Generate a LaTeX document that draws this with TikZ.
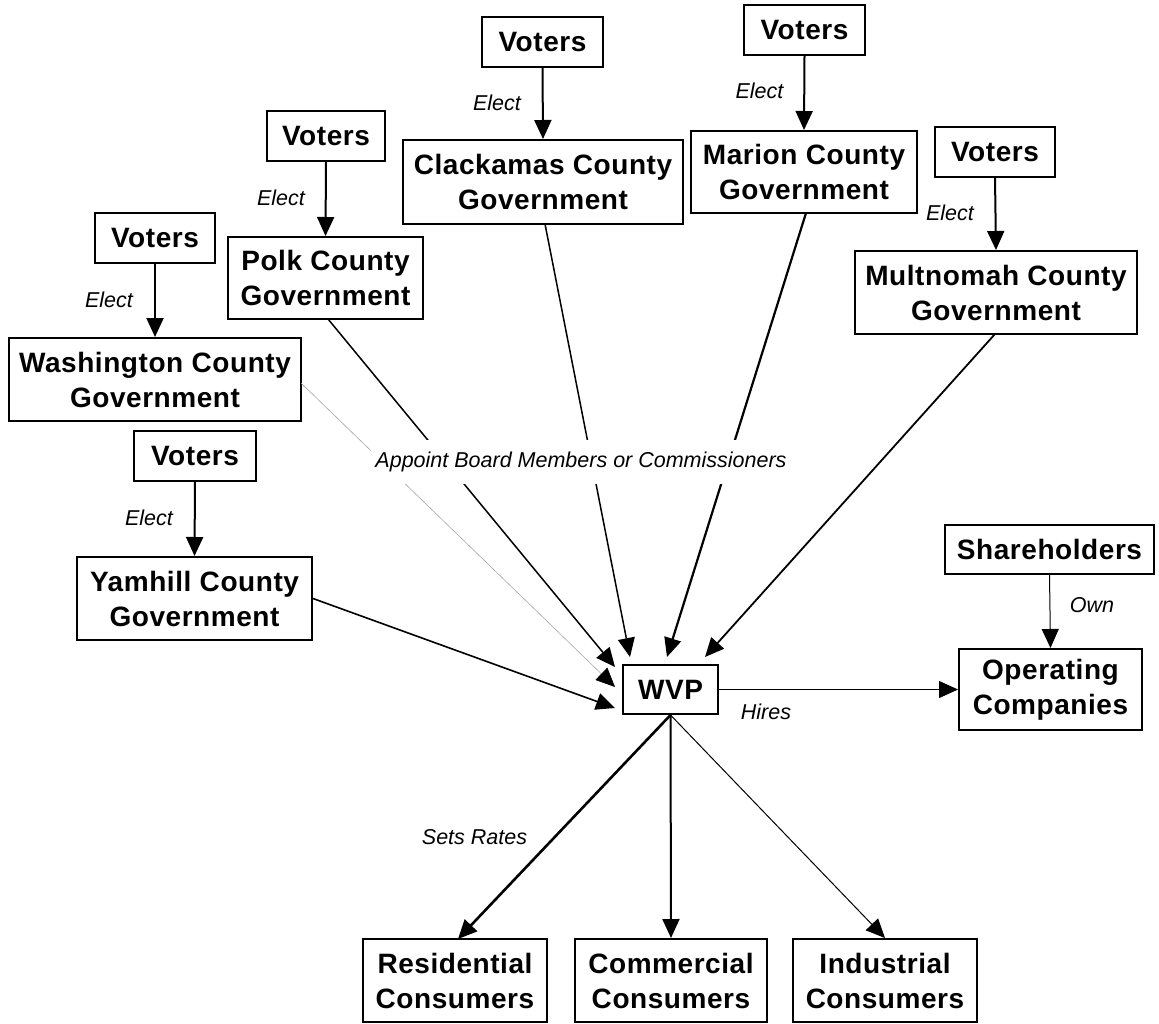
\documentclass[tikz,border=0pt]{standalone}
\usepackage{fontspec}
\setmainfont{Liberation Sans}
\newfontfamily\boxfont[LetterSpace=2]{Liberation Sans}
\usetikzlibrary{arrows.meta}
\tikzset{
  box/.style={draw, line width=2pt, inner sep=0pt, align=center,
    font=\boxfont\fontsize{28}{35}\selectfont\bfseries},
  lbl/.style={inner sep=0pt, font=\fontsize{21.5}{26}\selectfont\itshape},
  arr/.style={-{Triangle[length=19pt,width=17pt]}},
}
\begin{document}
\begin{tikzpicture}[x=1pt,y=-1pt]
\useasboundingbox (0,0) rectangle (1159,1023);
% voters
\node[box, minimum width=120pt, minimum height=50pt] (vw) at (155,238) {Voters};
\node[box, minimum width=122pt, minimum height=50pt] (vy) at (195,456) {Voters};
\node[box, minimum width=118pt, minimum height=50pt] (vp) at (326,136) {Voters};
\node[box, minimum width=121pt, minimum height=50pt] (vc) at (542.5,42) {Voters};
\node[box, minimum width=121pt, minimum height=50pt] (vm) at (804.5,30) {Voters};
\node[box, minimum width=120pt, minimum height=50pt] (vmu) at (995,152) {Voters};
% governments
\node[box, minimum width=292pt, minimum height=83pt] (wash) at (155,379.5) {Washington County\\Government};
\node[box, minimum width=235pt, minimum height=83pt] (yam) at (194.5,598.5) {Yamhill County\\Government};
\node[box, minimum width=195pt, minimum height=82pt] (polk) at (325.5,278) {Polk County\\Government};
\node[box, minimum width=280pt, minimum height=84pt] (clack) at (543,182) {Clackamas County\\Government};
\node[box, minimum width=226pt, minimum height=82pt] (mar) at (804,172) {Marion County\\Government};
\node[box, minimum width=282pt, minimum height=83pt] (mult) at (996,292.5) {Multnomah County\\Government};
% center
\node[box, minimum width=95pt, minimum height=49pt] (wvp) at (670.5,689.5) {WVP};
\node[box, minimum width=209pt, minimum height=49pt] (share) at (1049.5,549.5) {Shareholders};
\node[box, minimum width=183pt, minimum height=81pt] (oper) at (1050.5,689.5) {Operating\\Companies};
\node[box, minimum width=184pt, minimum height=83pt] (res) at (455,980.5) {Residential\\Consumers};
\node[box, minimum width=192pt, minimum height=83pt] (com) at (671,980.5) {Commercial\\Consumers};
\node[box, minimum width=184pt, minimum height=83pt] (ind) at (885,980.5) {Industrial\\Consumers};
% elect arrows
\draw[arr, line width=2pt] (vw.south) -- (wash.north);
\draw[arr, line width=2pt] (vy.south) -- (yam.north);
\draw[arr, line width=2pt] (vp.south) -- (polk.north);
\draw[arr, line width=2pt] (vc.south) -- (clack.north);
\draw[arr, line width=2pt] (vm.south) -- (mar.north);
\draw[arr, line width=2pt] (vmu.south) -- (mult.north);
\draw[arr, line width=1pt] (share.south) -- (oper.north);
\node[lbl] (e1) at (109,300) {Elect};
\node[lbl] (e2) at (149,518) {Elect};
\node[lbl] (e3) at (281,198) {Elect};
\node[lbl] (e4) at (497,103) {Elect};
\node[lbl] (e5) at (759.5,91) {Elect};
\node[lbl] (e6) at (950,213) {Elect};
\node[lbl] (own) at (1092,605) {Own};
% into WVP
\coordinate (wash1) at (301,383);
\coordinate (polk1) at (328,319);
\coordinate (clack1) at (545,224);
\coordinate (mar1) at (806,213);
\coordinate (mult1) at (995,334);
\coordinate (t1) at (615,708);
\coordinate (t2) at (615,687);
\coordinate (t3) at (615,667);
\coordinate (t4) at (630,657);
\coordinate (t5) at (667,657);
\coordinate (t6) at (705,657);
\draw[arr, line width=1.6pt] (yam.east) -- (t1);
\draw[-{Triangle[length=19pt,width=17pt,color=black]}, draw=gray!70, line width=0.6pt] (wash1) -- (t2);
\draw[arr, line width=1.5pt] (polk1) -- (t3);
\draw[arr, line width=1.5pt] (clack1) -- (t4);
\draw[arr, line width=2.2pt] (mar1) -- (t5);
\draw[arr, line width=1.8pt] (mult1) -- (t6);
\node[lbl, fill=white, inner xsep=4pt, inner ysep=12pt] (appt) at (581,462) {Appoint Board Members or Commissioners};
% hires
\draw[arr, line width=1pt] (wvp.east) -- (oper.west);
\node[lbl] (hires) at (766,712) {Hires};
% out of WVP
\draw[arr, line width=2.6pt] (wvp.south) -- (458,939) coordinate (rtip);
\draw[arr, line width=2pt] (wvp.south) -- (com.north);
\draw[arr, line width=1pt] (wvp.south) -- (ind.north);
\node[lbl] (sets) at (474.5,837) {Sets Rates};
\end{tikzpicture}
\end{document}
